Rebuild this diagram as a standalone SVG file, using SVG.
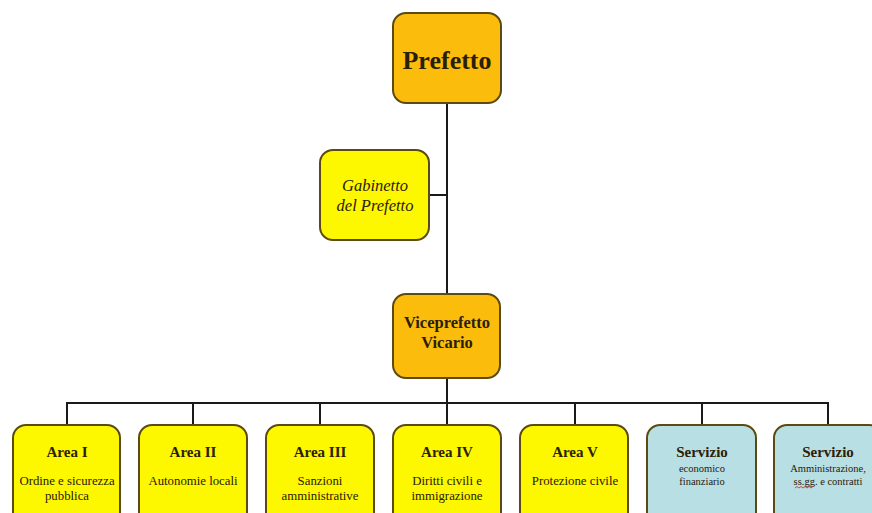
<svg xmlns="http://www.w3.org/2000/svg" width="872" height="513" viewBox="0 0 872 513">
<style>
.box{stroke:#5b4a12;stroke-width:2}
.org{fill:#fbbc0c}
.yel{fill:#fdf700}
.blu{fill:#b8dfe3}
.t{font-family:"Liberation Serif","Times New Roman",serif;fill:#2a2008;text-anchor:middle}
.b{font-weight:bold}
.h{font-size:15px;font-weight:bold}
.s{font-size:12.8px}
.sb{font-size:10.5px}
.line{stroke:#1a1a1a;stroke-width:2;fill:none}
</style>
<rect width="872" height="513" fill="#ffffff"/>
<g id="connectors">
<path class="line" d="M447 102V297"/>
<path class="line" d="M430 195H447"/>
<path class="line" d="M447 378V403"/>
<path class="line" d="M67 403H828"/>
<path class="line" d="M67 402V425M193 402V425M320 402V425M447 402V425M575 402V425M702 402V425M828 402V425"/>
</g>
<g id="prefetto">
<rect class="box org" x="393" y="13" width="108" height="90" rx="13"/>
<text class="t b" x="447" y="69" font-size="26">Prefetto</text>
</g>
<g id="gabinetto">
<rect class="box yel" x="320" y="150" width="109" height="90" rx="13"/>
<text class="t" x="375" y="191" font-size="16.5" font-style="italic">Gabinetto</text>
<text class="t" x="375" y="211" font-size="16.5" font-style="italic">del Prefetto</text>
</g>
<g id="viceprefetto">
<rect class="box org" x="393" y="294" width="107" height="84" rx="13"/>
<text class="t b" x="447" y="328" font-size="16.5">Viceprefetto</text>
<text class="t b" x="447" y="348" font-size="16.5">Vicario</text>
</g>
<g id="area1">
<rect class="box yel" x="13" y="425" width="107" height="100" rx="13"/>
<text class="t h" x="67" y="457">Area I</text>
<text class="t s" x="67" y="485">Ordine e sicurezza</text>
<text class="t s" x="67" y="500">pubblica</text>
</g>
<g id="area2">
<rect class="box yel" x="139" y="425" width="108" height="100" rx="13"/>
<text class="t h" x="193" y="457">Area II</text>
<text class="t s" x="193" y="485">Autonomie locali</text>
</g>
<g id="area3">
<rect class="box yel" x="266" y="425" width="108" height="100" rx="13"/>
<text class="t h" x="320" y="457">Area III</text>
<text class="t s" x="320" y="485">Sanzioni</text>
<text class="t s" x="320" y="500">amministrative</text>
</g>
<g id="area4">
<rect class="box yel" x="393" y="425" width="108" height="100" rx="13"/>
<text class="t h" x="447" y="457">Area IV</text>
<text class="t s" x="447" y="485">Diritti civili e</text>
<text class="t s" x="447" y="500">immigrazione</text>
</g>
<g id="area5">
<rect class="box yel" x="520" y="425" width="108" height="100" rx="13"/>
<text class="t h" x="575" y="457">Area V</text>
<text class="t s" x="575" y="485">Protezione civile</text>
</g>
<g id="servizio1">
<rect class="box blu" x="647" y="425" width="109" height="100" rx="13"/>
<text class="t h" x="702" y="457">Servizio</text>
<text class="t sb" x="702" y="472">economico</text>
<text class="t sb" x="702" y="485">finanziario</text>
</g>
<g id="servizio2">
<rect class="box blu" x="774" y="425" width="108" height="100" rx="13"/>
<text class="t h" x="828" y="457">Servizio</text>
<text class="t sb" x="828" y="472">Amministrazione,</text>
<text class="t sb" x="828" y="485">ss.gg. e contratti</text>
<path d="M795 488l2 -1.5 2 1.5 2 -1.5 2 1.5 2 -1.5 2 1.5 2 -1.5 2 1.5 2 -1.5" fill="none" stroke="#d02020" stroke-width="0.8"/>
</g>
</svg>
